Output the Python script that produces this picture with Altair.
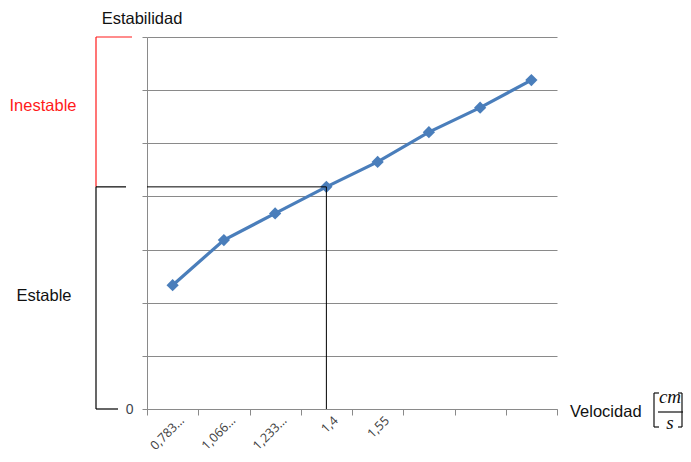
import altair as alt
import pandas as pd

# ---- data ----
idx = [0, 1, 2, 3, 4, 5, 6, 7]
x_labels = ["0,783…", "1,066…", "1,233…", "1,4", "1,55", "", "", ""]
estabilidad = [2.33, 3.18, 3.68, 4.18, 4.65, 5.21, 5.67, 6.19]
y_ticks = [0, 1, 2, 3, 4, 5, 6, 7]
y_max = 7
crit_idx = 3  # "1,4" : limit between stable / unstable
thr = estabilidad[crit_idx]

W, H = 410, 372
GRID = "#8a8a8a"
BLUE = "#4a7ebb"
RED = "#ff1a1a"
INK = "#111111"
FONT = "Liberation Sans"

df = pd.DataFrame({"idx": idx, "v": estabilidad})
one = pd.DataFrame({"k": [0]})

label_expr = "[" + ",".join("'" + l + "'" for l in x_labels) + "][datum.value]"

x_enc = alt.X(
    "idx:O",
    scale=alt.Scale(paddingInner=0, paddingOuter=0),
    axis=alt.Axis(
        title=None, tickBand="extent", labelExpr=label_expr, labelAngle=315,
        labelAlign="right", labelBaseline="middle", labelOffset=9,
        domainColor=GRID, tickColor=GRID, tickSize=6, labelPadding=3,
        labelFont="Open Sans", labelFontSize=12.5, labelColor="#404040",
        grid=False,
    ),
)
y_enc = alt.Y(
    "v:Q",
    scale=alt.Scale(domain=[0, y_max], nice=False, zero=True),
    axis=alt.Axis(
        title=None, values=y_ticks, labelExpr="datum.value == 0 ? '0' : ''",
        grid=True, gridColor=GRID, domainColor=GRID, tickColor=GRID,
        tickSize=5, labelPadding=9, labelFont=FONT, labelFontSize=14,
        labelColor="#3f4650",
    ),
)

base = alt.Chart(df)

line = base.mark_line(color=BLUE, strokeWidth=3.2).encode(x=x_enc, y=y_enc)
pts = base.mark_point(shape="diamond", filled=True, size=150, color=BLUE,
                      opacity=1).encode(x="idx:O", y="v:Q")

crit = base.transform_filter(f"datum.idx == {crit_idx}")
h_rule = crit.mark_rule(color="black", strokeWidth=1).encode(
    x="idx:O", x2=alt.value(0), y="v:Q")
v_rule = crit.mark_rule(color="black", strokeWidth=1).encode(
    x="idx:O", y="v:Q", y2=alt.datum(0))

def seg(color, x1, x2=None, y1=None, y2=None):
    enc = dict(x=alt.value(x1), y=alt.datum(y1))
    if x2 is not None:
        enc["x2"] = alt.value(x2)
    if y2 is not None:
        enc["y2"] = alt.datum(y2)
    return alt.Chart(one).mark_rule(color=color, strokeWidth=1.2).encode(**enc)

brackets = [
    seg(RED, -51, y1=y_max, y2=thr),
    seg(RED, -51, x2=-15, y1=y_max),
    seg("black", -51, y1=thr, y2=0),
    seg("black", -51, x2=-21, y1=thr),
    seg("black", -51, x2=-29, y1=0),
]

def pseg(x1, y1, x2=None, y2=None, w=1.2):
    enc = dict(x=alt.value(x1), y=alt.value(y1))
    if x2 is not None:
        enc["x2"] = alt.value(x2)
    if y2 is not None:
        enc["y2"] = alt.value(y2)
    return alt.Chart(one).mark_rule(color=INK, strokeWidth=w).encode(**enc)

def txt(t, x, y, color=INK, size=16.5, align="center", font=FONT,
        style="normal", baseline="alphabetic"):
    return alt.Chart(pd.DataFrame({"t": [t]})).mark_text(
        align=align, baseline=baseline, font=font, fontSize=size, color=color,
        fontStyle=style,
    ).encode(text="t:N", x=alt.value(x), y=alt.value(y))

texts = [
    txt("Estabilidad", -5, -13),
    txt("Inestable", -104, 74, color=RED),
    txt("Estable", -103, 264),
    txt("Velocidad", 423, 380, align="left"),
    txt("cm", 523, 366, size=19, font="Liberation Serif", style="italic"),
    txt("s", 523, 392, size=19, font="Liberation Serif", style="italic"),
]
# unit  [cm / s]  drawn as thin bracket strokes and a fraction bar
unit_marks = [
    pseg(507, 356, y2=390),          # "[" stem
    pseg(507, 356, x2=512),          # "[" top serif
    pseg(507, 390, x2=512),          # "[" bottom serif
    pseg(511, 375, x2=536),          # fraction bar
    pseg(535, 356, y2=390),          # "]" stem
    pseg(531, 356, x2=535),          # "]" top serif
    pseg(531, 390, x2=535),          # "]" bottom serif
]

chart = alt.layer(
    line, pts, h_rule, v_rule, *brackets, *texts, *unit_marks
).properties(
    width=W, height=H,
    autosize=alt.AutoSizeParams(type="none"),
    padding={"left": 139, "top": 29, "right": 126, "bottom": 45},
).configure_view(stroke=None).configure_axis(domainWidth=1, tickWidth=1, gridWidth=1)

chart.save("out.html", embed_options={"renderer": "svg", "actions": False})
